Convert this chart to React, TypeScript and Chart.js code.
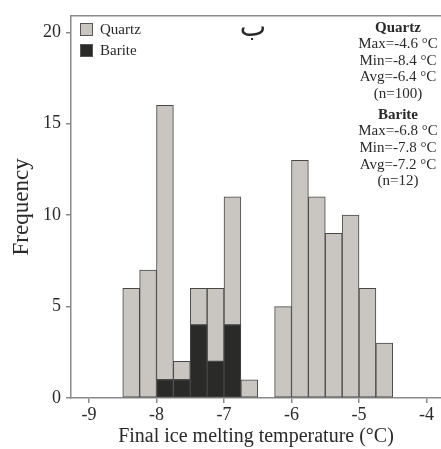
import { useEffect, useRef } from "react";
import { Chart, registerables } from "chart.js";

Chart.register(...registerables);

// ---- data ----
const binCenters = [-8.375, -8.125, -7.875, -7.625, -7.375, -7.125, -6.875, -6.625, -6.375, -6.125, -5.875, -5.625, -5.375, -5.125, -4.875, -4.625];
const quartzCounts = [6, 7, 15, 1, 2, 4, 7, 1, 0, 5, 13, 11, 9, 10, 6, 3];
const bariteCounts = [0, 0, 1, 1, 4, 2, 4, 0, 0, 0, 0, 0, 0, 0, 0, 0];
const xTickValues = [-9, -8, -7, -6, -5, -4];
const yTickValues = [0, 5, 10, 15, 20];
const seriesNames = ["Quartz", "Barite"];
const quartzStats = ["Max=-4.6 °C", "Min=-8.4 °C", "Avg=-6.4 °C", "(n=100)"];
const bariteStats = ["Max=-6.8 °C", "Min=-7.8 °C", "Avg=-7.2 °C", "(n=12)"];
const panelLetter = "ب";
const xTitle = "Final ice melting temperature (°C)";
const yTitle = "Frequency";

// ---- styles ----
const SERIF = "'Liberation Serif', 'Times New Roman', serif";
const quartzFill = "#c9c6c1";
const bariteFill = "#2a2a28";
const barBorder = "#474747";
const axisColor = "#8a8a8a";
const textColor = "#2a2a2a";

const toPoints = (vals: number[]) =>
  binCenters.map((x, i) => ({ x, y: vals[i] === 0 ? null : vals[i] }));

const overlay = {
  id: "overlay",
  afterDraw(chart: any) {
    const { ctx, chartArea } = chart;
    const { left, right, top } = chartArea;
    ctx.save();
    // top frame line
    ctx.strokeStyle = axisColor;
    ctx.lineWidth = 1.5;
    ctx.beginPath();
    ctx.moveTo(left, top);
    ctx.lineTo(right, top);
    ctx.stroke();

    // legend
    const fills = [quartzFill, bariteFill];
    ctx.lineWidth = 1;
    seriesNames.forEach((name, i) => {
      const y = 23 + i * 21;
      ctx.fillStyle = fills[i];
      ctx.fillRect(80, y, 13, 13);
      ctx.strokeStyle = "#555";
      ctx.strokeRect(80.5, y + 0.5, 12, 12);
      ctx.fillStyle = textColor;
      ctx.font = `15px ${SERIF}`;
      ctx.textAlign = "left";
      ctx.textBaseline = "middle";
      ctx.fillText(name, 100, y + 7);
    });

    // stats block
    const cx = 398;
    ctx.textAlign = "center";
    ctx.textBaseline = "middle";
    ctx.fillStyle = textColor;
    const step = 16.6;
    ctx.font = `bold 15px ${SERIF}`;
    ctx.fillText(seriesNames[0], cx, 28);
    ctx.font = `15px ${SERIF}`;
    quartzStats.forEach((s, i) => ctx.fillText(s, cx, 44 + i * step));
    ctx.font = `bold 15px ${SERIF}`;
    ctx.fillText(seriesNames[1], cx, 115);
    ctx.font = `15px ${SERIF}`;
    bariteStats.forEach((s, i) => ctx.fillText(s, cx, 131.5 + i * step));

    // panel letter
    ctx.font = `28px 'DejaVu Sans', sans-serif`;
    ctx.fillText(panelLetter, 253, 29);
    ctx.restore();
  },
};

export default function App() {
  const ref = useRef<HTMLCanvasElement>(null);
  useEffect(() => {
    const chart = new Chart(ref.current as HTMLCanvasElement, {
      type: "bar",
      data: {
        datasets: [
          {
            label: seriesNames[1],
            data: toPoints(bariteCounts) as any,
            backgroundColor: bariteFill,
            borderColor: barBorder,
            borderWidth: 1,
            borderSkipped: false,
            barPercentage: 1,
            categoryPercentage: 1,
          },
          {
            label: seriesNames[0],
            data: toPoints(quartzCounts) as any,
            backgroundColor: quartzFill,
            borderColor: barBorder,
            borderWidth: 1,
            borderSkipped: false,
            barPercentage: 1,
            categoryPercentage: 1,
          },
        ],
      },
      options: {
        responsive: false,
        animation: false,
        layout: { padding: { top: 14, right: 0, left: 0, bottom: 0 } },
        plugins: { legend: { display: false }, tooltip: { enabled: false } },
        scales: {
          x: {
            type: "linear",
            stacked: true,
            offset: false,
            min: -9.267,
            max: -3.785,
            afterBuildTicks: (s: any) => {
              s.ticks = xTickValues.map((v) => ({ value: v }));
            },
            afterFit: (s: any) => {
              s.height = 51;
            },
            grid: {
              offset: false,
              drawOnChartArea: false,
              drawTicks: true,
              tickLength: 5,
              color: axisColor,
              lineWidth: 1.5,
            },
            border: { display: true, color: axisColor, width: 1.5 },
            ticks: {
              color: textColor,
              font: { family: SERIF, size: 18 },
              padding: 1,
              maxRotation: 0,
              autoSkip: false,
            },
            title: {
              display: true,
              text: xTitle,
              color: textColor,
              font: { family: SERIF, size: 20, lineHeight: 1.2 },
              padding: { top: 0, bottom: 0 },
            },
          },
          y: {
            type: "linear",
            stacked: true,
            min: 0,
            max: 20.9,
            afterBuildTicks: (s: any) => {
              s.ticks = yTickValues.map((v) => ({ value: v }));
            },
            afterFit: (s: any) => {
              s.width = 71;
            },
            grid: {
              drawOnChartArea: false,
              drawTicks: true,
              tickLength: 5,
              color: axisColor,
              lineWidth: 1.5,
            },
            border: { display: true, color: axisColor, width: 1.5 },
            ticks: {
              color: textColor,
              font: { family: SERIF, size: 18 },
              padding: 5,
            },
            title: {
              display: true,
              text: yTitle,
              color: textColor,
              font: { family: SERIF, size: 23, lineHeight: 1.2 },
              padding: { top: 8, bottom: 0 },
            },
          },
        },
      },
      plugins: [overlay],
    } as any);
    return () => chart.destroy();
  }, []);
  return (
    <div style={{ position: "absolute", left: 0, top: 0, width: 441, height: 449, background: "#fff" }}>
      <canvas ref={ref} width={441} height={449} style={{ display: "block" }} />
    </div>
  );
}
